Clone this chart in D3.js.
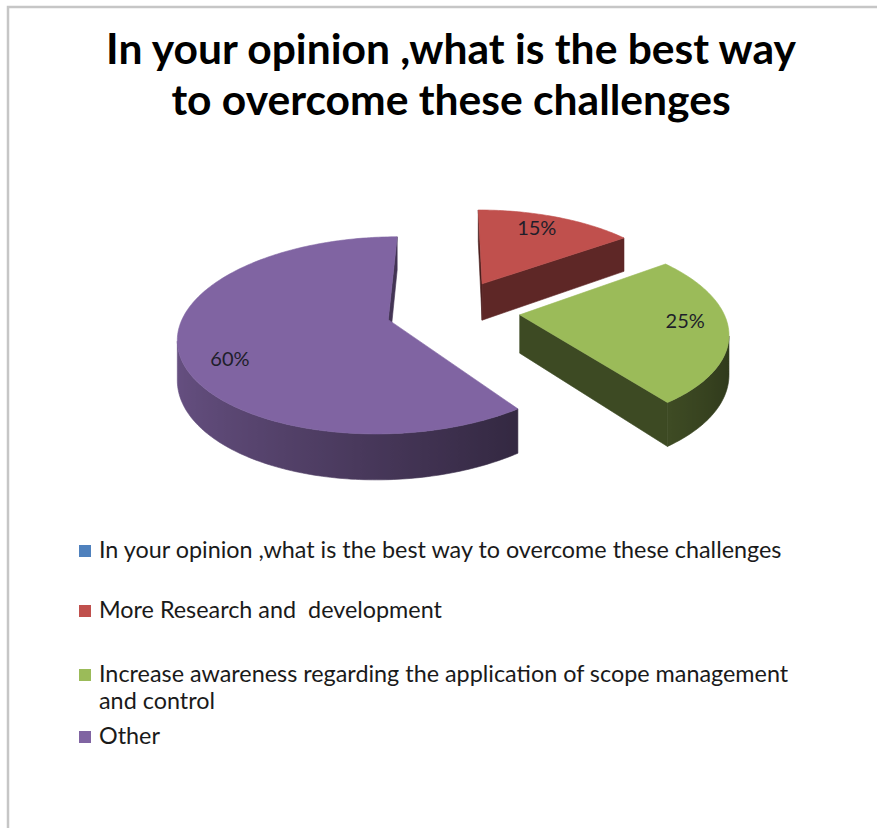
<!DOCTYPE html>
<html>
<head>
<meta charset="utf-8">
<script src="https://cdn.jsdelivr.net/npm/d3@7"></script>
<style>
  html, body { margin: 0; padding: 0; background: #fff; }
  svg { display: block; }
  text { font-family: Lato, "Open Sans", "Noto Sans", sans-serif; }
</style>
</head>
<body>
<svg id="chart" width="877" height="828"></svg>
<script>
// ---- data ----
const titleLines = ["In your opinion ,what is the best way", "to overcome these challenges"];
const categories = [
  "In your opinion ,what is the best way to overcome these challenges",
  "More Research and  development",
  "Increase awareness regarding the application of scope management and control",
  "Other"
];
const values = [0, 15, 25, 60];
const colors = ["#4f81bd", "#c0504d", "#9bbb59", "#8064a2"];

// ---- layout ----
const W = 877, H = 828;
const svg = d3.select("#chart");
const defs = svg.append("defs");

// chart area frame (only top and left edges fall inside the page)
svg.append("rect")
  .attr("x", 8).attr("y", 7)
  .attr("width", W + 40).attr("height", H + 40)
  .attr("fill", "none")
  .attr("stroke", "#c6c6c6")
  .attr("stroke-width", 2.5);

// ---- title ----
const titleG = svg.append("g");
titleLines.forEach((t, i) => {
  titleG.append("text")
    .attr("x", 451)
    .attr("y", 64 + i * 51)
    .attr("text-anchor", "middle")
    .attr("font-weight", 700)
    .attr("font-size", 35)
    .attr("fill", "#000")
    .text(t);
});
{
  const w = titleG.select("text").node().getComputedTextLength();
  titleG.selectAll("text").attr("font-size", 35 * 690 / w);
}

// ---- 3D exploded pie ----
const total = d3.sum(values);
const pctFmt = d3.format(".0%");
const pie = d3.pie().sort(null).value(d => d.value);
const slices = pie(categories.map((c, i) => ({ name: c, value: values[i], color: colors[i] })));

const geo = { cx: 453, cy: 310, rx: 203, ry: 93, persp: 0.157, depth: 38, explode: 0.33 };
const camV = 1 / geo.persp;   // horizontal position of the eye, in disc units

// disc coordinates (X right, V toward the viewer, h = 0 top / 1 bottom) -> screen
function project(X, V, h) {
  const s = 1 / (1 - geo.persp * V);
  return [geo.cx + geo.rx * X * s, geo.cy + (geo.ry * V + geo.depth * h) * s];
}
function shade(hex, k) {
  const c = d3.rgb(hex);
  return d3.rgb(c.r * k, c.g * k, c.b * k).formatHex();
}
function facing(nX, nV, pX, pV) {
  return nX * (0 - pX) + nV * (camV - pV) > 0;
}
const poly = pts => d3.line()(pts) + "Z";
const wallShade = t => 0.55 - 0.25 * Math.sin(t);

const pieG = svg.append("g");
const drawn = slices
  .filter(d => d.endAngle > d.startAngle)
  .map(d => {
    const mid = (d.startAngle + d.endAngle) / 2;
    return { d, ox: geo.explode * Math.sin(mid), oy: -geo.explode * Math.cos(mid) };
  })
  .sort((a, b) => a.oy - b.oy);   // back to front

drawn.forEach(({ d, ox, oy }, si) => {
  const a0 = d.startAngle, a1 = d.endAngle, col = d.data.color;
  const wX = (t, r) => ox + r * Math.sin(t);
  const wV = (t, r) => oy - r * Math.cos(t);
  const pt = (t, r, h) => project(wX(t, r), wV(t, r), h);
  const n = Math.max(2, Math.ceil((a1 - a0) / (Math.PI / 180)));
  const angs = d3.range(n + 1).map(i => a0 + (a1 - a0) * i / n);
  const g = pieG.append("g");

  // radial cut faces
  [[a0, -1], [a1, 1]].forEach(([a, sgn]) => {
    const nX = sgn * Math.cos(a), nV = sgn * Math.sin(a);
    if (facing(nX, nV, ox, oy)) {
      const f = shade(col, 0.45 + 0.07 * nX);
      g.append("path")
        .attr("d", poly([project(ox, oy, 0), pt(a, 1, 0), pt(a, 1, 1), project(ox, oy, 1)]))
        .attr("fill", f).attr("stroke", f).attr("stroke-width", 0.6)
        .attr("stroke-linejoin", "round");
    }
  });

  // outer curved wall: contiguous runs of segments that face the eye
  const vis = d3.range(n).map(i => {
    const tm = (angs[i] + angs[i + 1]) / 2;
    return facing(Math.sin(tm), -Math.cos(tm), wX(tm, 1), wV(tm, 1));
  });
  const runs = [];
  vis.forEach((v, i) => {
    if (!v) return;
    if (runs.length && runs[runs.length - 1][1] === i) runs[runs.length - 1][1] = i + 1;
    else runs.push([i, i + 1]);
  });
  runs.forEach(([i0, i1], ri) => {
    const ts = angs.slice(i0, i1 + 1);
    const topPts = ts.map(t => pt(t, 1, 0));
    const botPts = ts.map(t => pt(t, 1, 1)).reverse();
    const xs = topPts.map(p => p[0]);
    const xmin = d3.min(xs), xmax = d3.max(xs);
    const gid = `wall-${si}-${ri}`;
    const grad = defs.append("linearGradient")
      .attr("id", gid)
      .attr("gradientUnits", "userSpaceOnUse")
      .attr("x1", xmin).attr("y1", 0)
      .attr("x2", xmax).attr("y2", 0);
    ts.map((t, k) => ({ off: (xs[k] - xmin) / Math.max(1e-6, xmax - xmin), c: shade(col, wallShade(t)) }))
      .sort((a, b) => a.off - b.off)
      .forEach(s => grad.append("stop").attr("offset", s.off).attr("stop-color", s.c));
    g.append("path")
      .attr("d", poly(topPts.concat(botPts)))
      .attr("fill", `url(#${gid})`)
      .attr("stroke", `url(#${gid})`)
      .attr("stroke-width", 0.6)
      .attr("stroke-linejoin", "round");
  });

  // top surface
  g.append("path")
    .attr("d", poly([project(ox, oy, 0)].concat(angs.map(t => pt(t, 1, 0)))))
    .attr("fill", col).attr("stroke", col).attr("stroke-width", 0.6)
    .attr("stroke-linejoin", "round");
});

// value labels on the top surfaces
drawn.forEach(({ d, ox, oy }) => {
  const t = d.startAngle + 0.45 * (d.endAngle - d.startAngle);
  const r = 0.8;
  const [x, y] = project(ox + r * Math.sin(t), oy - r * Math.cos(t), 0);
  pieG.append("text")
    .attr("x", x).attr("y", y)
    .attr("dy", "0.36em")
    .attr("text-anchor", "middle")
    .attr("font-size", 20)
    .attr("fill", "#1e1e2a")
    .text(pctFmt(d.value / total));
});

// ---- legend ----
const legendBaselines = [558, 618, 682, 744];
const legendLine = 27;
const legendG = svg.append("g");
let legendFs = 21;
{
  const probe = legendG.append("text").attr("font-size", 21).style("white-space", "pre").text(categories[0]);
  legendFs = 21 * 683 / probe.node().getComputedTextLength();
  probe.remove();
}
function wrapWords(str, maxW) {
  const probe = legendG.append("text").attr("font-size", legendFs).style("white-space", "pre");
  const words = str.split(" ");
  const lines = [];
  let cur = "";
  words.forEach(w => {
    const test = cur === "" ? w : cur + " " + w;
    probe.text(test);
    if (probe.node().getComputedTextLength() > maxW && cur !== "") {
      lines.push(cur);
      cur = w;
    } else {
      cur = test;
    }
  });
  if (cur !== "") lines.push(cur);
  probe.remove();
  return lines;
}
categories.forEach((c, i) => {
  const y0 = legendBaselines[i];
  legendG.append("rect")
    .attr("x", 79).attr("y", y0 - 13)
    .attr("width", 12).attr("height", 12)
    .attr("fill", colors[i]);
  const txt = legendG.append("text")
    .attr("font-size", legendFs)
    .attr("fill", "#1a1a1a")
    .style("white-space", "pre");
  wrapWords(c, 700).forEach((ln, j) => {
    txt.append("tspan").attr("x", 99).attr("y", y0 + j * legendLine).text(ln);
  });
});
</script>
</body>
</html>
